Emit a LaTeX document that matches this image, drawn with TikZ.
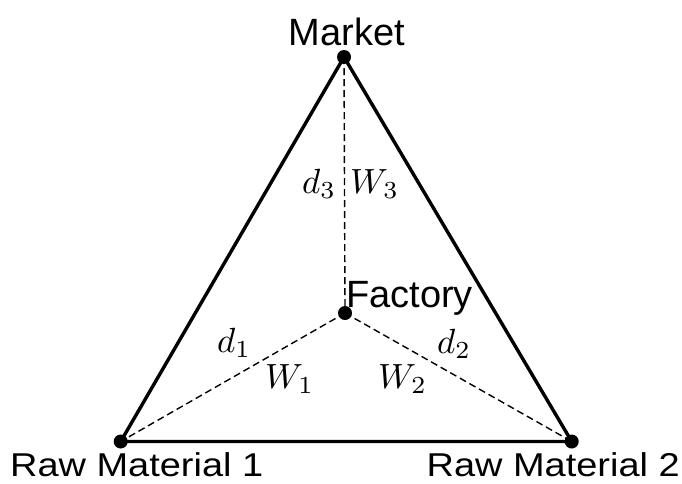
\documentclass[tikz,border=0pt]{standalone}
\usepackage{fontspec}
\setmainfont{Liberation Sans}
\newcommand{\bigmath}[1]{\scalebox{3.5}{$#1$}}
\begin{document}
\begin{tikzpicture}[x=1pt,y=-1pt,
  solidedge/.style={line width=3.4pt, line join=round},
  dashedge/.style={line width=1.4pt, dash pattern=on 7pt off 4pt},
  dot/.style={circle, fill=black, inner sep=0pt, minimum size=14pt},
  lbl/.style={inner sep=0pt, font=\fontsize{38}{38}\selectfont},
  rmlbl/.style={inner sep=0pt, font=\fontsize{33}{33}\selectfont},
  mlbl/.style={inner sep=0pt, anchor=base west}]
\useasboundingbox (0,0) rectangle (682,483);
\coordinate (M) at (344,57);
\coordinate (F) at (345,313);
\coordinate (A) at (120.7,441.5);
\coordinate (B) at (571.7,441.5);
\draw[solidedge] (A) -- (M) -- (B) -- cycle;
\draw[dashedge] (M) -- (F);
\draw[dashedge] (F) -- (A);
\draw[dashedge] (F) -- (B);
\node[dot] (mdot) at (M) {};
\node[dot] (fdot) at (F) {};
\node[dot] (adot) at (A) {};
\node[dot] (bdot) at (B) {};
\node[lbl, anchor=base] (mk) at (347,45) {Market};
\node[lbl, anchor=base west] (fa) at (346,307) {Factory};
\node[rmlbl, anchor=base west] (r1) at (10,476.5) {\scalebox{1.15}[1]{Raw Material 1}};
\node[rmlbl, anchor=base east] (r2) at (680,476.5) {\scalebox{1.15}[1]{Raw Material 2}};
\node[mlbl] (d3) at (302,193) {\bigmath{d_3}};
\node[mlbl] (w3) at (350,193) {\bigmath{W_3}};
\node[mlbl] (d1) at (217,352) {\bigmath{d_1}};
\node[mlbl] (w1) at (265,388) {\bigmath{W_1}};
\node[mlbl] (w2) at (378,388) {\bigmath{W_2}};
\node[mlbl] (d2) at (437,353) {\bigmath{d_2}};
\end{tikzpicture}
\end{document}
